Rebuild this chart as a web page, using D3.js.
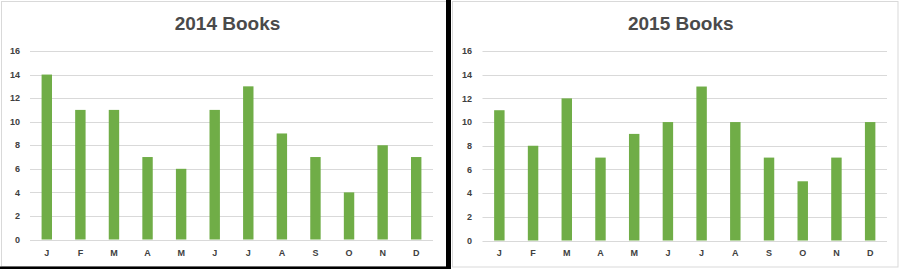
<!DOCTYPE html>
<html>
<head>
<meta charset="utf-8">
<script src="https://cdn.jsdelivr.net/npm/d3@7"></script>
<style>
  body { margin: 0; background: #fff; }
  svg { display: block; }
</style>
</head>
<body>
<svg id="chart" width="900" height="269"></svg>
<script>
const months = ["J", "F", "M", "A", "M", "J", "J", "A", "S", "O", "N", "D"];
const books2014 = [14, 11, 11, 7, 6, 11, 13, 9, 7, 4, 8, 7];
const books2015 = [11, 8, 12, 7, 9, 10, 13, 10, 7, 5, 7, 10];
const yTicks = [0, 2, 4, 6, 8, 10, 12, 14, 16];
const titles = ["2014 Books", "2015 Books"];

const svg = d3.select("#chart");

const panels = [
    { title: titles[0], values: books2014, x0: 30, x1: 433, top: 51, bottom: 239.5, labelX: 20, frame: [1.5, 1.5, 445, 265] },
    { title: titles[1], values: books2015, x0: 482.5, x1: 887, top: 51, bottom: 240.5, labelX: 472, frame: [452.5, 1.5, 445.5, 265.5] }
];

// frames
panels.forEach(p => {
    svg.append("rect")
        .attr("x", p.frame[0]).attr("y", p.frame[1])
        .attr("width", p.frame[2]).attr("height", p.frame[3])
        .attr("fill", "#fff")
        .attr("stroke", "#d9d9d9");
});
// dark separators
svg.append("rect").attr("x", 446).attr("y", 0).attr("width", 5).attr("height", 269).attr("fill", "#000");
svg.append("rect").attr("x", 0).attr("y", 266.5).attr("width", 446).attr("height", 2.5).attr("fill", "#000");

panels.forEach(p => {
    const g = svg.append("g");

    const x = d3.scaleBand()
        .domain(d3.range(months.length))
        .range([p.x0, p.x1])
        .paddingInner(0.69)
        .paddingOuter(0.345);

    const y = d3.scaleLinear().domain([0, 16]).range([p.bottom, p.top]);

    // gridlines
    g.selectAll(".grid")
        .data(yTicks)
        .enter().append("line")
        .attr("x1", p.x0).attr("x2", p.x1)
        .attr("y1", d => Math.round(y(d)) + 0.5)
        .attr("y2", d => Math.round(y(d)) + 0.5)
        .attr("stroke", "#d9d9d9")
        .attr("stroke-width", 1);

    // y labels
    g.selectAll(".ylab")
        .data(yTicks)
        .enter().append("text")
        .attr("x", p.labelX)
        .attr("y", d => y(d))
        .attr("dy", "0.35em")
        .attr("text-anchor", "end")
        .style("font-family", "Liberation Sans, Arial, sans-serif")
        .style("font-weight", "bold")
        .style("font-size", "9px")
        .attr("fill", "#404040")
        .text(d => d);

    // bars
    g.selectAll(".bar")
        .data(p.values)
        .enter().append("rect")
        .attr("x", (d, i) => x(i))
        .attr("width", x.bandwidth())
        .attr("y", d => y(d))
        .attr("height", d => y(0) - y(d))
        .attr("fill", "#70ad47");

    // x labels
    g.selectAll(".xlab")
        .data(months)
        .enter().append("text")
        .attr("x", (d, i) => x(i) + x.bandwidth() / 2)
        .attr("y", 256)
        .attr("text-anchor", "middle")
        .style("font-family", "Liberation Sans, Arial, sans-serif")
        .style("font-weight", "bold")
        .style("font-size", "9px")
        .attr("fill", "#404040")
        .text(d => d);

    // title
    g.append("text")
        .attr("x", (p.x0 + p.x1) / 2 - 4)
        .attr("y", 30)
        .attr("text-anchor", "middle")
        .style("font-family", "Liberation Sans, Arial, sans-serif")
        .style("font-weight", "bold")
        .style("font-size", "19px")
        .attr("fill", "#4a4a4a")
        .text(p.title);
});
</script>
</body>
</html>
